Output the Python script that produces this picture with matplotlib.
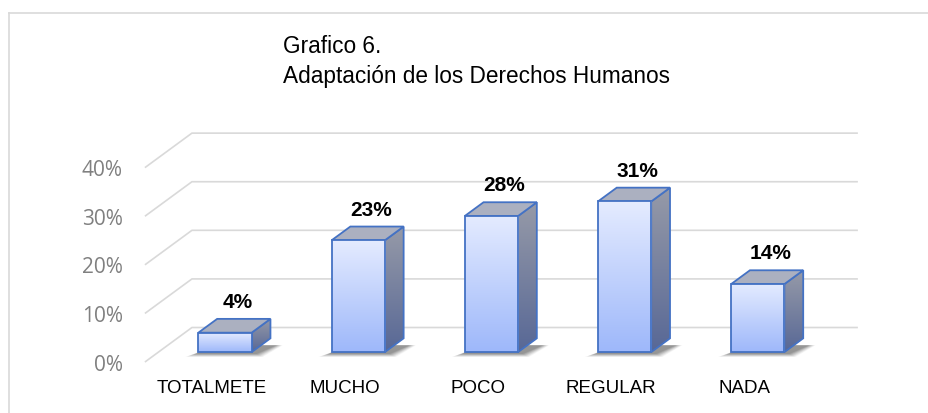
"""
Grafico 6 - Adaptacion de los Derechos Humanos.
Pseudo-3D column chart drawn with plain matplotlib patches in data coordinates.
"""

import numpy as np
import matplotlib
matplotlib.use("Agg")
import matplotlib.pyplot as plt
from matplotlib.patches import Polygon, Rectangle
from matplotlib.lines import Line2D

categories = ["TOTALMETE", "MUCHO", "POCO", "REGULAR", "NADA"]
values = [4, 23, 28, 31, 14]
value_labels = ["4%", "23%", "28%", "31%", "14%"]
ticks = [0, 10, 20, 30, 40]
tick_labels = ["0%", "10%", "20%", "30%", "40%"]
title_lines = ["Grafico 6.", "Adaptación de los Derechos Humanos"]

SANS = ["Liberation Sans", "DejaVu Sans"]

# oblique projection: full floor depth in data units (x in categories, y in %)
DEPTH_X, DEPTH_Y = 0.353, 7.1
BAR_POS = 0.287       # where the bar front sits inside the depth
BAR_DEPTH = 0.4       # bar depth as fraction of full depth
BAR_W = 0.4

EDGE = "#4472c4"
GRID = "#d9d9d9"

fig = plt.figure(figsize=(9.29, 4.14), dpi=100)
ax = fig.add_axes([0, 0, 1, 1])
ax.set_axis_off()

n = len(categories)
left_wall = -0.5
right_wall = n - 0.5

# back wall gridlines + left side wall diagonals
for t in ticks:
    ax.plot([left_wall, left_wall + DEPTH_X, right_wall + DEPTH_X],
            [t, t + DEPTH_Y, t + DEPTH_Y], color=GRID, lw=1.2, zorder=1,
            solid_capstyle="butt")

for t, lab in zip(ticks, tick_labels):
    ax.annotate(lab, (left_wall, t), xytext=(-16, -1.5), textcoords="offset points",
                ha="right", va="center", fontsize=15, color="#808080",
                family="Open Sans")


def vgrad(top, bottom, n=64):
    top = np.array(top) / 255.0
    bottom = np.array(bottom) / 255.0
    t = np.linspace(0, 1, n)[:, None]
    return (top * (1 - t) + bottom * t)[:, None, :]


front_grad = vgrad((228, 235, 255), (158, 184, 250))
side_grad = vgrad((150, 154, 168), (88, 104, 150))

ddx = DEPTH_X * BAR_DEPTH
ddy = DEPTH_Y * BAR_DEPTH

for i, (v, lab) in enumerate(zip(values, value_labels)):
    xc = i + BAR_POS * DEPTH_X
    b = BAR_POS * DEPTH_Y
    x0 = xc - BAR_W / 2
    x1 = xc + BAR_W / 2

    # soft floor shadow, stacked translucent layers
    for k in range(8):
        e = 0.011 * (8 - k)
        ey = 0.22 * (8 - k)
        sh = Polygon([(x0 - 0.01 - e, b - 0.3 - ey * 0.4),
                      (x1 + 0.03 + e * 0.6, b - 0.3 - ey * 0.4),
                      (x1 + ddx + 0.04 + e * 0.6, b + ddy * 0.5),
                      (x0 + ddx, b + ddy * 0.5)],
                     closed=True, facecolor="#404040", edgecolor="none",
                     alpha=0.05 + 0.012 * k, zorder=2)
        ax.add_patch(sh)

    # side face
    side = Polygon([(x1, b), (x1 + ddx, b + ddy), (x1 + ddx, b + ddy + v), (x1, b + v)],
                   closed=True, facecolor="none", edgecolor=EDGE, lw=1.3, zorder=4)
    ax.add_patch(side)
    im = ax.imshow(side_grad, extent=(x1, x1 + ddx, b, b + ddy + v),
                   aspect="auto", zorder=3, interpolation="bilinear")
    im.set_clip_path(side)

    # top face
    top = Polygon([(x0, b + v), (x1, b + v), (x1 + ddx, b + v + ddy), (x0 + ddx, b + v + ddy)],
                  closed=True, facecolor="#abb0c0", edgecolor=EDGE, lw=1.3, zorder=4)
    ax.add_patch(top)

    # front face
    front = Rectangle((x0, b), BAR_W, v, facecolor="none", edgecolor=EDGE,
                      lw=1.3, zorder=6)
    ax.add_patch(front)
    im = ax.imshow(front_grad, extent=(x0, x1, b, b + v), aspect="auto",
                   zorder=5, interpolation="bilinear")
    im.set_clip_path(front)

    ax.annotate(lab, (xc + ddx * 0.7, b + v + ddy), xytext=(0, 8.5),
                textcoords="offset points", ha="center", va="baseline",
                fontsize=15, fontweight="bold", family=SANS, zorder=7)

for i, cat in enumerate(categories):
    ax.annotate(cat, (i, 0), xytext=(0, -18), textcoords="offset points",
                ha="center", va="center", fontsize=13.5, family=SANS)

ax.set_xlim(-1.588, 5.387)
ax.set_ylim(-10.49, 74.7)

fig.text(283 / 929, 1 - 53 / 414, title_lines[0], fontsize=16.3,
         family=SANS, va="baseline")
fig.text(283 / 929, 1 - 83 / 414, title_lines[1], fontsize=16.3,
         family=SANS, va="baseline")

# chart area border (only top/left edges fall inside the picture)
bx, by = 9 / 929, 1 - 14 / 414
fig.add_artist(Line2D([bx, 1], [by, by], color=GRID, lw=1.2))
fig.add_artist(Line2D([bx, bx], [0, by], color=GRID, lw=1.2))

fig.savefig("out.png", dpi=100)
